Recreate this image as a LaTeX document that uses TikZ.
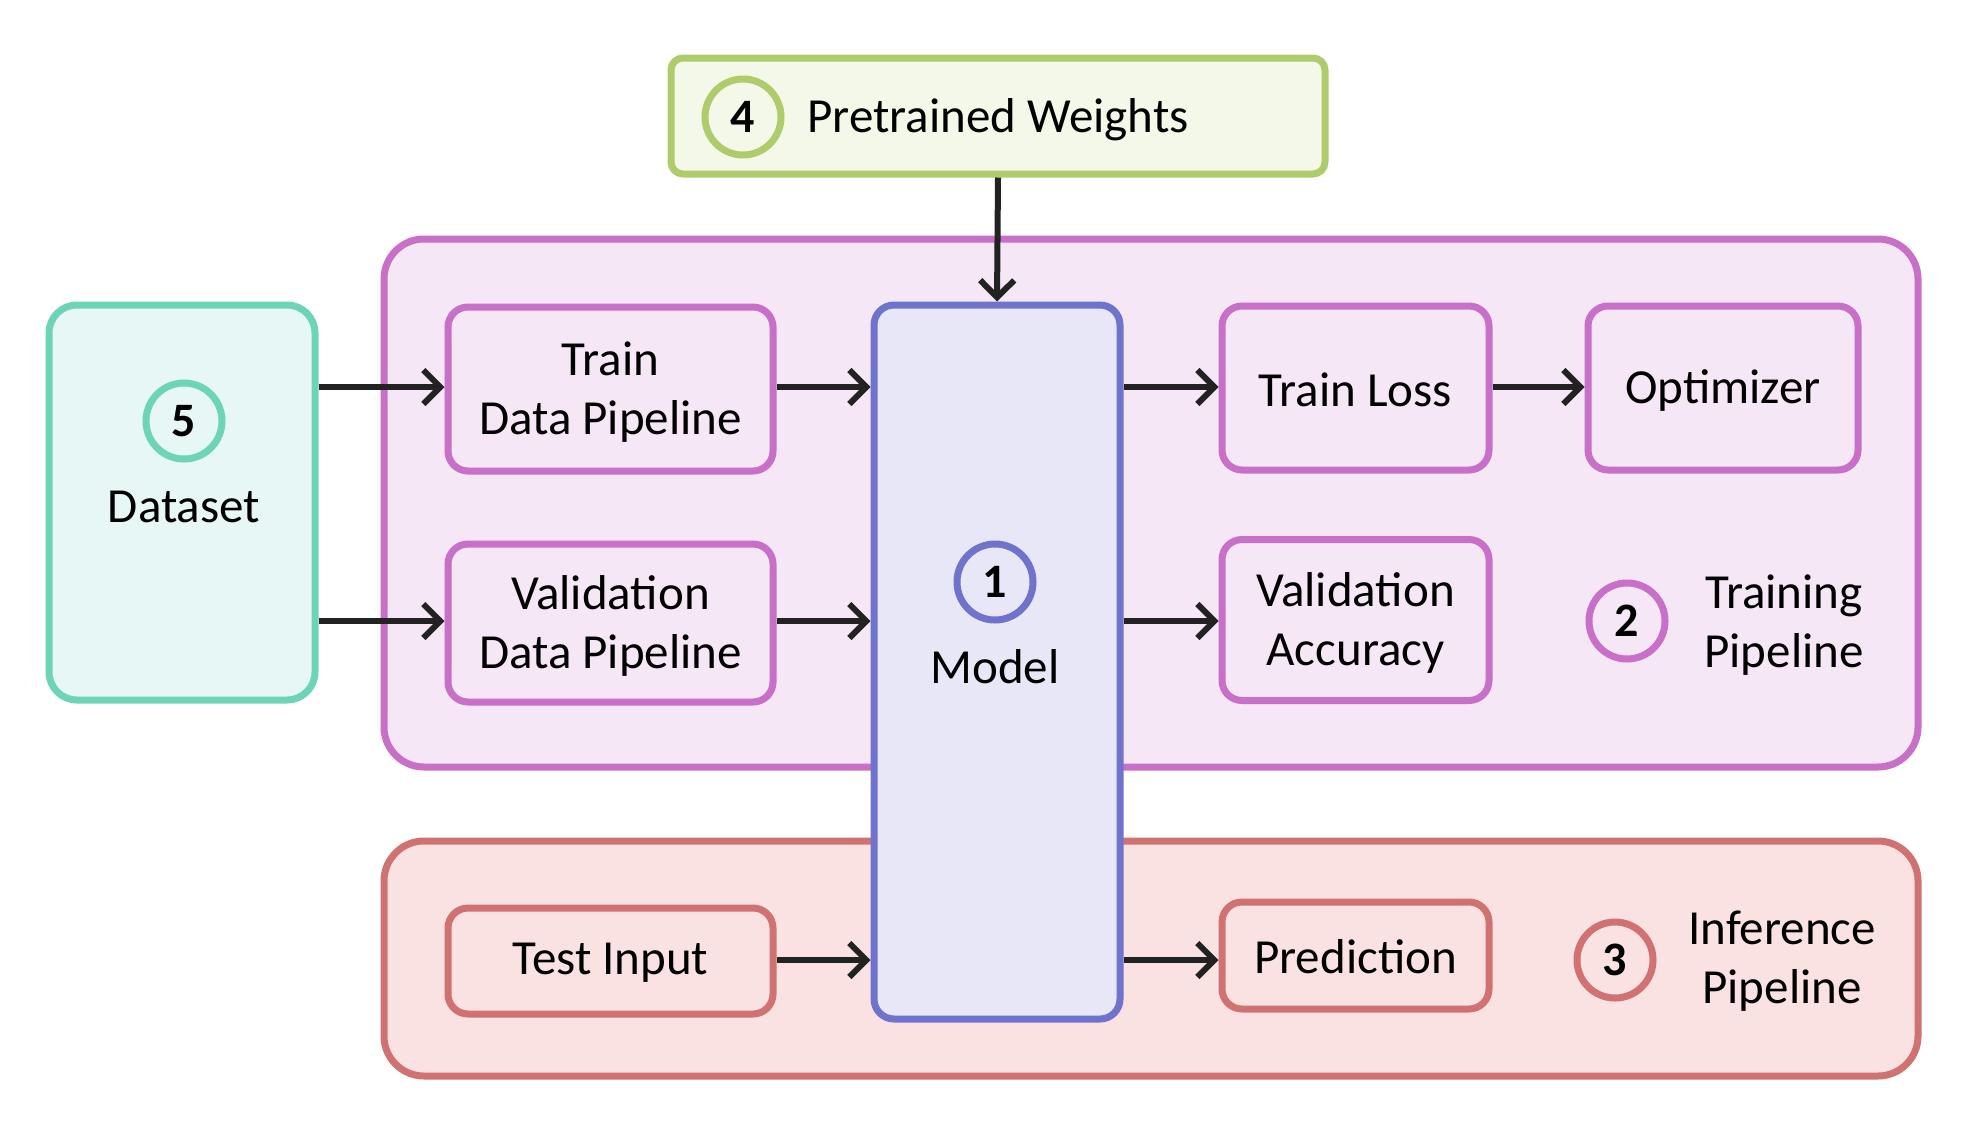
\documentclass[tikz,border=0pt]{standalone}
\usepackage{fontspec}
\setmainfont{Carlito}
\usetikzlibrary{arrows.meta}
\definecolor{gB}{HTML}{AFCC6C}\definecolor{gF}{HTML}{F4F8E8}
\definecolor{pB}{HTML}{C86FC8}\definecolor{pF}{HTML}{F6E7F6}
\definecolor{rB}{HTML}{D07272}\definecolor{rF}{HTML}{FAE2E2}
\definecolor{tB}{HTML}{6DD4B8}\definecolor{tF}{HTML}{E6F7F5}
\definecolor{bB}{HTML}{6F73CC}\definecolor{bF}{HTML}{E7E7F7}
\definecolor{aK}{HTML}{222222}
\begin{document}
\begin{tikzpicture}[x=1pt,y=-1pt,
  txt/.style={font=\fontsize{49}{59}\selectfont,align=center,text=black,inner sep=0pt},
  box/.style={draw,line width=7pt,rounded corners=20pt,inner sep=0pt,txt},
  num/.style={circle,draw,line width=7pt,minimum size=76pt,inner sep=0pt,font=\fontsize{48}{50}\selectfont\bfseries,text=black},
  arr/.style={draw=aK,line width=6pt,-{Straight Barb[length=17pt,width=34pt,line width=6pt]}}]
\useasboundingbox (0,0) rectangle (1975,1120);
% containers
\node[box,draw=pB,fill=pF,rounded corners=40pt,minimum width=1534pt,minimum height=528pt] (train) at (1151,503) {};
\node[box,draw=rB,fill=rF,rounded corners=40pt,minimum width=1534pt,minimum height=235pt] (inf) at (1151,958.5) {};
\node[box,draw=gB,fill=gF,rounded corners=12pt,minimum width=654pt,minimum height=116pt] (pw) at (998,116) {};
\node[num,draw=gB] (c4) at (743,117) {4};
\node[txt,anchor=west] (pwt) at (807,120) {Pretrained Weights};
% dataset
\node[box,draw=tB,fill=tF,rounded corners=28pt,minimum width=266pt,minimum height=395pt] (ds) at (182,502.5) {};
\node[num,draw=tB] (c5) at (184,421) {5};
\node[txt] (dst) at (184,507) {Dataset};
% training inner
\node[box,draw=pB,fill=pF,minimum width=325pt,minimum height=164pt] (tdp) at (610.5,389) {};
\node[txt] (tdpt) at (610.5,392) {Train\\Data Pipeline};
\node[box,draw=pB,fill=pF,minimum width=325pt,minimum height=158pt] (vdp) at (610.5,623) {};
\node[txt] (vdpt) at (610.5,626) {Validation\\Data Pipeline};
\node[box,draw=pB,fill=pF,minimum width=267pt,minimum height=164pt] (tl) at (1355.5,388) {};
\node[txt] (tlt) at (1355.5,390) {Train Loss};
\node[box,draw=pB,fill=pF,minimum width=270pt,minimum height=164pt] (opt) at (1723,388) {};
\node[txt] (optt) at (1723,390) {Optimizer};
\node[box,draw=pB,fill=pF,minimum width=267pt,minimum height=161pt] (va) at (1355.5,620) {};
\node[txt] (vat) at (1355.5,623) {Validation\\Accuracy};
\node[num,draw=pB] (c2) at (1627,621) {2};
\node[txt] (trt) at (1784,625) {Training\\Pipeline};
% inference inner
\node[box,draw=rB,fill=rF,minimum width=325pt,minimum height=106pt] (ti) at (610.5,961) {};
\node[txt] (tit) at (610.5,963) {Test Input};
\node[box,draw=rB,fill=rF,minimum width=267pt,minimum height=107pt] (pred) at (1355.5,955.5) {};
\node[txt] (predt) at (1355.5,957) {Prediction};
\node[num,draw=rB] (c3) at (1615,960) {3};
\node[txt] (inft) at (1782,961) {Inference\\Pipeline};
% model
\node[box,draw=bB,fill=bF,minimum width=246pt,minimum height=714pt] (model) at (997,662) {};
\node[num,draw=bB] (c1) at (995,582) {1};
\node[txt] (mt) at (995,667) {Model};
% arrows
\draw[arr] (pw.south) -- (model.north);
\draw[arr] (ds.east |- 0,387) -- (tdp.west |- 0,387);
\draw[arr] (ds.east |- 0,621) -- (vdp.west |- 0,621);
\draw[arr] (tdp.east |- 0,387) -- (model.west |- 0,387);
\draw[arr] (vdp.east |- 0,621) -- (model.west |- 0,621);
\draw[arr] (model.east |- 0,387) -- (tl.west |- 0,387);
\draw[arr] (tl.east |- 0,387) -- (opt.west |- 0,387);
\draw[arr] (model.east |- 0,621) -- (va.west |- 0,621);
\draw[arr] (ti.east |- 0,960) -- (model.west |- 0,960);
\draw[arr] (model.east |- 0,960) -- (pred.west |- 0,960);
\end{tikzpicture}
\end{document}
